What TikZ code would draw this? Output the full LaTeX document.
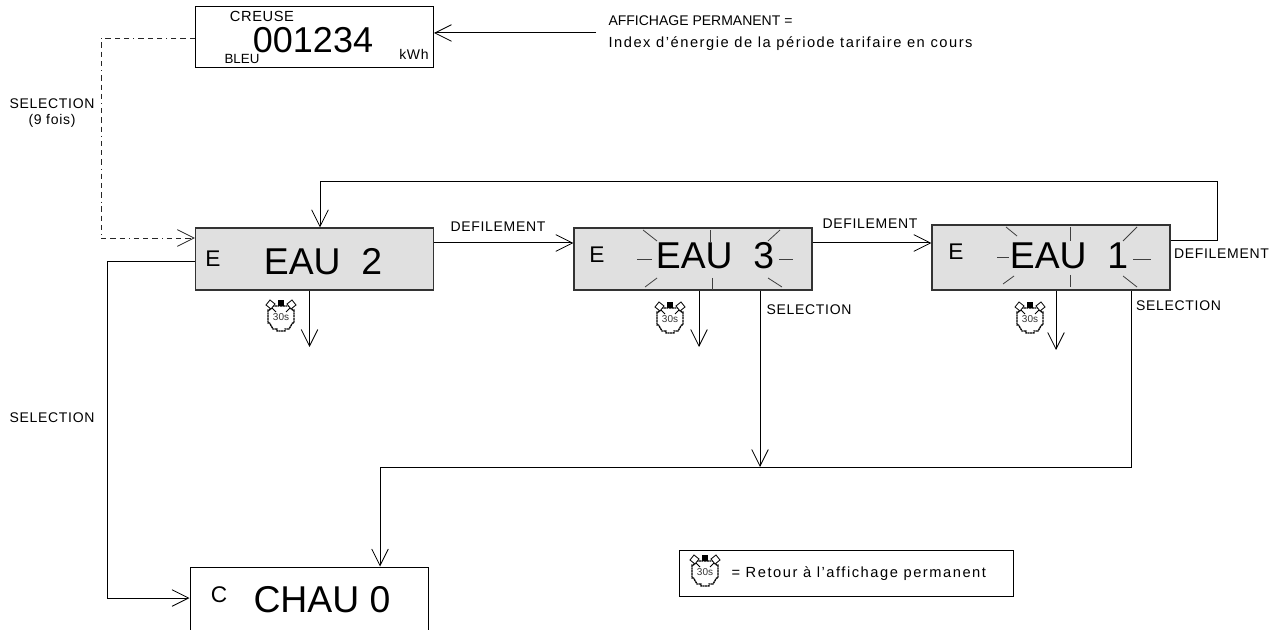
\documentclass[tikz,border=0pt]{standalone}
\usepackage{fontspec}
\setmainfont{Liberation Sans}
\usetikzlibrary{positioning,arrows.meta,calc}
\definecolor{lcdgris}{RGB}{224,224,224}

\begin{document}
\begin{tikzpicture}[x=0.75pt,y=-0.75pt,line width=0.75pt,
  >={Straight Barb[length=12.5pt,width=12.5pt,line width=0.6pt]}]
\tikzset{
  lcd/.style={draw, rectangle, inner sep=0pt, minimum width=178.5pt, minimum height=46.5pt},
  lcdon/.style={lcd, fill=lcdgris, draw=black!80, line width=1pt},
  label/.style={inner sep=0pt, font=\fontsize{10.5}{12.5}\selectfont\addfontfeature{LetterSpace=5}},
  phrase/.style={inner sep=0pt, font=\fontsize{11}{13}\selectfont\addfontfeature{LetterSpace=10.5}},
  big/.style={inner sep=0pt, font=\fontsize{28}{30}\selectfont},
  lettre/.style={inner sep=0pt, font=\fontsize{17}{19}\selectfont},
  trait/.style={line width=0.6pt, black!75},
  pointille/.style={line width=0.6pt, black!85, dash pattern=on 4pt off 3pt on 4pt off 3pt on 4pt off 3pt on 0.6pt off 3pt},
  chrono/.pic={
    \draw[line width=1pt, dash pattern=on 1.6pt off 0.4pt] (-9,-12) -- (9,-12) -- (11.5,-8) -- (13,-8) -- (13,5)
      -- (11.5,5) -- (8,11) -- (4,11) -- (4,13) -- (-4,13) -- (-4,11) -- (-8,11) -- (-11.5,5) -- (-13,5) -- (-13,-8) -- (-11.5,-8) -- cycle;
    \fill (-3,-18) rectangle (3,-12);
    \draw[line width=0.6pt, fill=white] (-15,-13) -- (-11,-18) -- (-6,-14) -- (-10,-9) -- cycle;
    \draw[line width=0.6pt, fill=white] (15,-13) -- (11,-18) -- (6,-14) -- (10,-9) -- cycle;
    \draw[line width=0.6pt] (-9,-10) -- (-5,-6) (9,-10) -- (5,-6);
    \node[inner sep=0pt, text=black!80, font=\fontsize{7.5}{8}\selectfont] at (0,-1) {30s};
  }
}
\useasboundingbox (0,0) rectangle (1284,630);

% afficheurs
\node (permanent) at (314.5,37.5) [lcd, minimum height=45.75pt]{};
\node (eaudeux) at (314.5,259) [lcdon]{};
\node (eautrois) at (693,259) [lcdon]{};
\node (eauun) at (1051,257.5) [lcdon, minimum height=48.75pt]{};
\node (chauffage) at (309,605) [lcd, minimum height=57pt]{};
\node (legende) at (846.5,573.5) [draw, rectangle, inner sep=0pt, minimum width=251pt, minimum height=35pt]{};

% textes des afficheurs
\node (creuse) at (262,16) [label, font=\fontsize{11}{13}\selectfont\addfontfeature{LetterSpace=4}]{CREUSE};
\node (index) at (313,40.5) [big, font=\fontsize{27}{29}\selectfont]{001234};
\node (bleu) at (242,59) [label, font=\fontsize{10}{12}\selectfont]{BLEU};
\node (kwh) at (414,54) [label]{kWh};
\node (ledeux) at (213,259) [lettre]{E};
\node (txtdeux) at (323,262) [big]{EAU\ \ 2};
\node (letrois) at (597,255) [lettre]{E};
\node (txttrois) at (715,256) [big]{EAU\ \ 3};
\node (leun) at (956,252) [lettre]{E};
\node (txtun) at (1069,256) [big]{EAU\ \ 1};
\node (lechau) at (219,595) [lettre]{C};
\node (txtchau) at (322,600) [big]{CHAU 0};

% etincelles
\foreach \xa/\ya/\xb/\yb in {643/230/657/241, 710/230/710/243, 780/230/768/241, 637/259/652/259,
  779/259/793/259, 657/278/645/287, 712/278/712/290, 768/278/782/287,
  1006/227/1017/236, 1070/227/1070/241, 1137/227/1123/241, 997/257/1009/257,
  1133/259/1151/259, 1014/276/1003/284, 1070/275/1070/287, 1123/276/1137/287}
  \draw[trait] (\xa,\ya) -- (\xb,\yb);

% libelles
\node (affichage) at (596,33) [phrase, anchor=west, align=left, inner xsep=9pt, inner ysep=0pt]{{\fontsize{10.5}{12.5}\selectfont\addfontfeature{LetterSpace=0}AFFICHAGE PERMANENT =}\\[4pt]Index d'énergie de la période tarifaire en cours};
\node (selneuf) at (52,113) [label, align=center]{SELECTION\\(9 fois)};
\node (selgauche) at (52,418) [label]{SELECTION};
\node (seltrois) at (809,310) [label]{SELECTION};
\node (selun) at (1178.5,306) [label]{SELECTION};
\node (defdeux) at (498,227) [label]{DEFILEMENT};
\node (deftrois) at (870,224) [label]{DEFILEMENT};
\node (defun) at (1221.5,254) [label]{DEFILEMENT};
\node (retour) [phrase, anchor=west] at (731,574) {= Retour à l'affichage permanent};

% chronos
\pic at (281,318) {chrono};
\pic at (670,320) {chrono};
\pic at (1030,320) {chrono};
\pic at (705,573) {chrono};

% liaisons
\coordinate (coinhaut) at (101,38);
\coordinate (coinbas) at (101,238);
\coordinate (boucledroite) at (1217,182);
\coordinate (bouclegauche) at (320,182);
\coordinate (retourgauche) at (107,262);
\coordinate (retourbas) at (107,598);
\coordinate (jonction) at (760,467);
\coordinate (jonctionun) at (1131,467);
\coordinate (jonctionchau) at (380,467);
\coordinate (finun) at (1056,350);
\coordinate (fintrois) at (699,347);
\coordinate (findeux) at (309.5,347);

\draw[->] (affichage.west) -- (affichage.west -| permanent.east);
\draw[pointille] (permanent.west |- coinhaut) -- (coinhaut) -- (coinbas);
\draw[pointille,->] (coinbas) -- (eaudeux.west |- coinbas);
\draw[->] (eaudeux.east |- 0,243) -- (eautrois.west |- 0,243);
\draw[->] (eautrois.east |- 0,243) -- (eauun.west |- 0,243);
\draw (eauun.east |- 0,241) -| (boucledroite) -- (bouclegauche);
\draw[->] (bouclegauche) -- (bouclegauche |- eaudeux.north);
\draw[->] (eaudeux.south -| findeux) -- (findeux);
\draw[->] (eautrois.south -| fintrois) -- (fintrois);
\draw[->] (eauun.south -| finun) -- (finun);
\draw[->] (eautrois.south -| jonction) -- (jonction);
\draw (eauun.south -| jonctionun) -- (jonctionun) -- (jonctionchau);
\draw[->] (jonctionchau) -- (jonctionchau |- chauffage.north);
\draw (eaudeux.west |- retourgauche) -- (retourgauche) -- (retourbas);
\draw[->] (retourbas) -- (chauffage.west |- retourbas);
\end{tikzpicture}
\end{document}
